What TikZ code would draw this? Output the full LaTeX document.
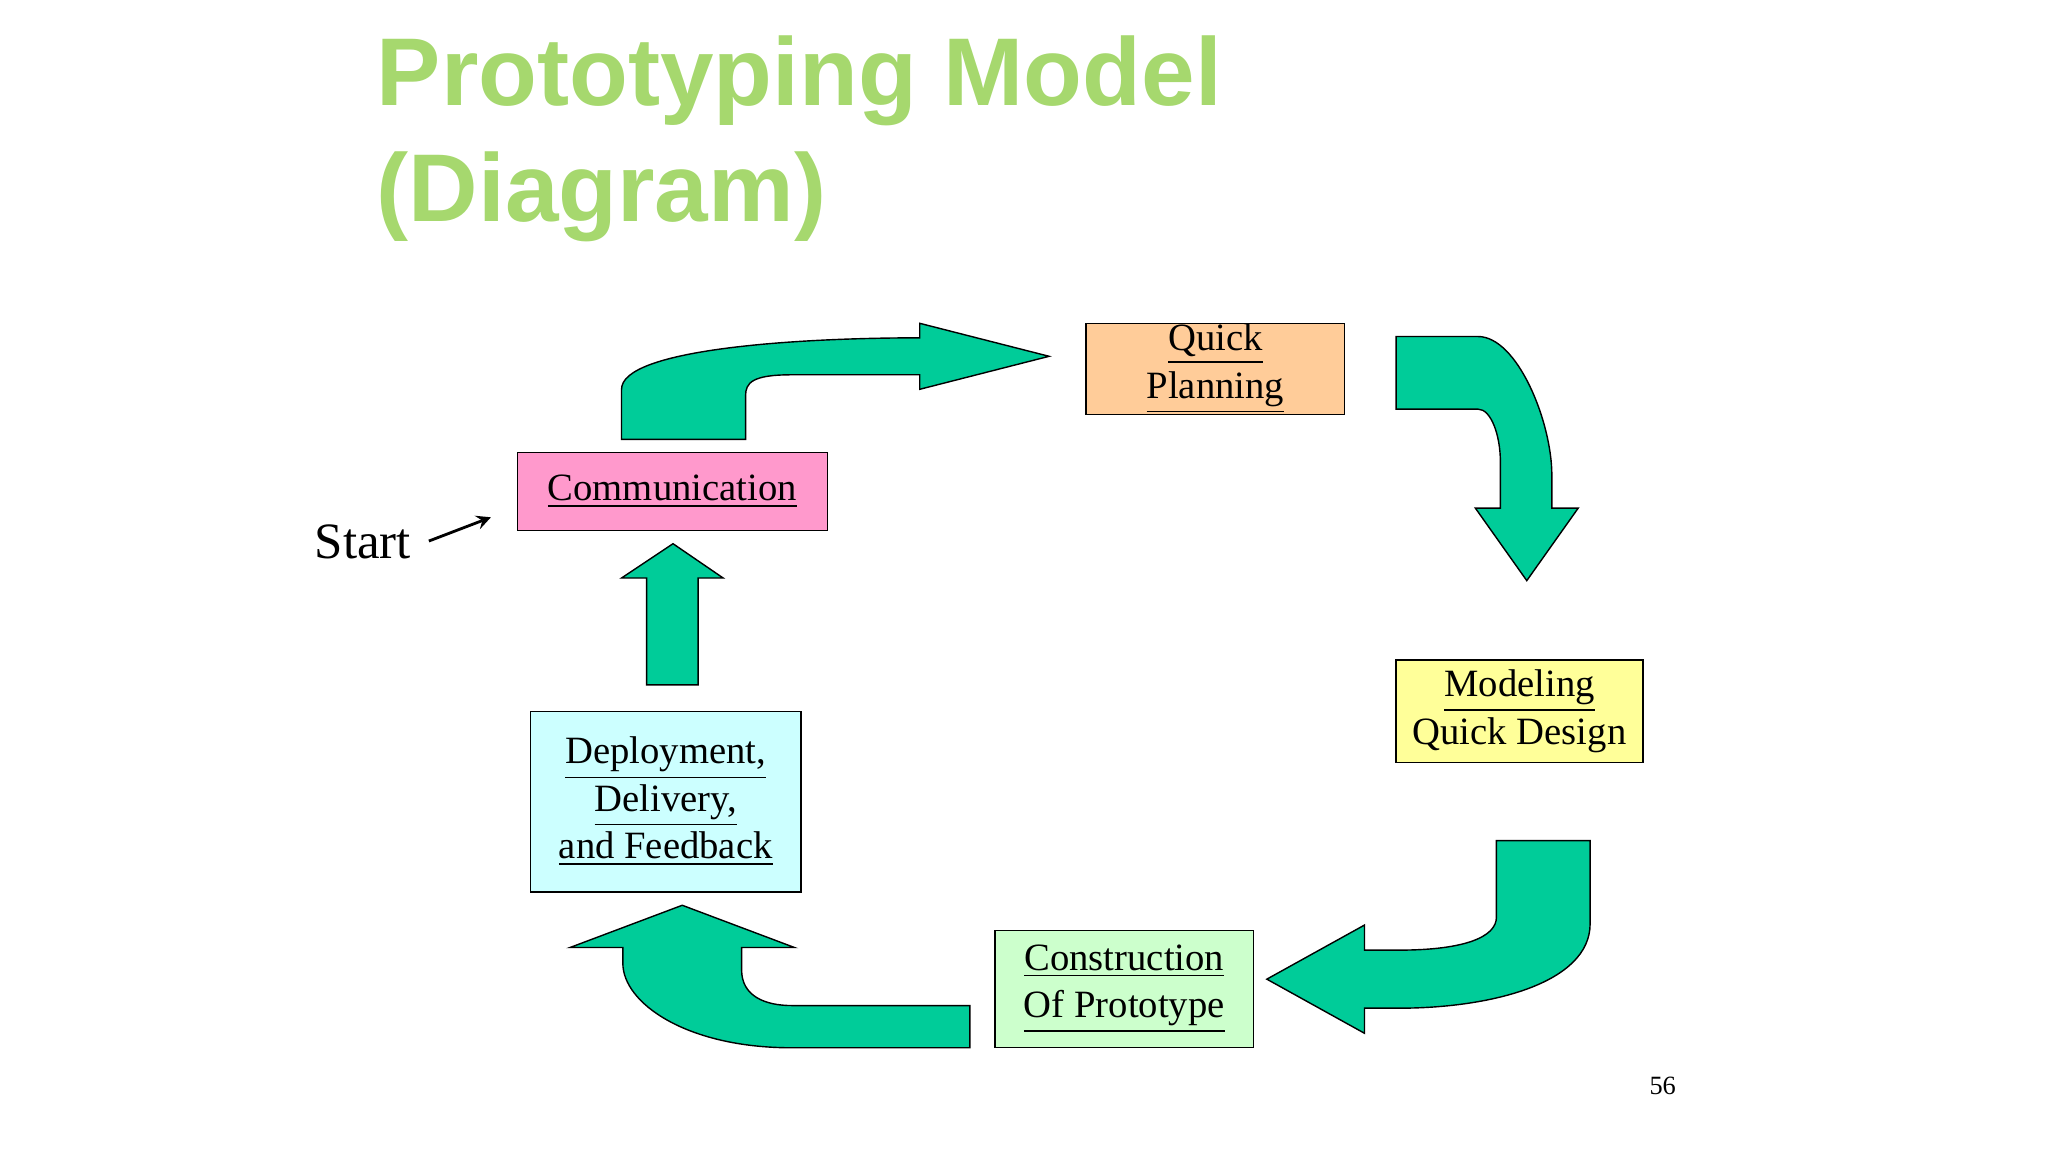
\documentclass[tikz,border=0pt]{standalone}
\usepackage{fontspec}
\setmainfont{Liberation Serif}
\newfontfamily\titlefont{Liberation Sans}
\definecolor{titlegreen}{HTML}{A6D86E}
\definecolor{flowgreen}{HTML}{00CC99}
\definecolor{planfill}{HTML}{FFCC99}
\definecolor{commfill}{HTML}{FF99CC}
\definecolor{modelfill}{HTML}{FFFF99}
\definecolor{deployfill}{HTML}{CCFFFF}
\definecolor{buildfill}{HTML}{CCFFCC}
\tikzset{
  stage/.style={draw=black,inner sep=0pt,align=center,font=\fontsize{11pt}{13.5pt}\selectfont},
  flowarrow/.style={draw=black,fill=flowgreen,line join=miter}
}
\begin{document}
\begin{tikzpicture}[x=0.0132cm,y=-0.0132cm]
    \useasboundingbox (0,0) rectangle (1552,873);

    \node[anchor=base west,text=titlegreen,font=\titlefont\bfseries\fontsize{27.4pt}{33pt}\selectfont,inner sep=0pt]
      (title) at (285,80) {Prototyping Model};
    \node[anchor=base west,text=titlegreen,font=\titlefont\bfseries\fontsize{27.4pt}{33pt}\selectfont,inner sep=0pt]
      (title2) at (285,168) {(Diagram)};

    \node[stage,fill=planfill,minimum width=196*0.0132cm,minimum height=69*0.0132cm]
      (plan) at (921,279.5) {\underline{Quick}\\\underline{Planning}};
    \node[stage,fill=commfill,minimum width=235*0.0132cm,minimum height=59*0.0132cm]
      (comm) at (509.5,372.5) {\underline{Communication}};
    \node[stage,fill=modelfill,minimum width=187*0.0132cm,minimum height=78*0.0132cm]
      (model) at (1151.5,539) {\underline{Modeling}\\Quick Design};
    \node[stage,fill=deployfill,minimum width=205*0.0132cm,minimum height=137*0.0132cm]
      (deploy) at (504.5,607.5) {\underline{Deployment,}\\\underline{Delivery,}\\\underline{and Feedback}};
    \node[stage,fill=buildfill,minimum width=196*0.0132cm,minimum height=89*0.0132cm]
      (build) at (852,749.5) {\underline{Construction}\\\underline{Of Prototype}};

    \draw[flowarrow] (471,333) -- (471,295) .. controls (471,265) and (600,256) .. (697,256)
      -- (697,245) -- (795,270) -- (697,295) -- (697,284) -- (600,284)
      .. controls (570,284) and (565,290) .. (565,300) -- (565,333) -- cycle;
    \draw[flowarrow] (1058,255) -- (1120,255) .. controls (1150,255) and (1176,320) .. (1176,360)
      -- (1176,385) -- (1196,385) -- (1157,440) -- (1118,385) -- (1137,385) -- (1137,350)
      .. controls (1137,330) and (1130,310) .. (1120,310) -- (1058,310) -- cycle;
    \draw[flowarrow] (1134,637) -- (1205,637) -- (1205,700) .. controls (1205,745) and (1130,764) .. (1060,764)
      -- (1034,764) -- (1034,783) -- (960,742) -- (1034,701) -- (1034,720) -- (1060,720)
      .. controls (1110,720) and (1134,710) .. (1134,695) -- cycle;
    \draw[flowarrow] (735,794) -- (600,794) .. controls (520,794) and (472,760) .. (472,730)
      -- (472,718) -- (432,718) -- (517,686) -- (602,718) -- (562,718) -- (562,735)
      .. controls (562,755) and (580,762) .. (600,762) -- (735,762) -- cycle;
    \draw[flowarrow] (490,519) -- (490,438) -- (471,438) -- (510,412) -- (548,438)
      -- (529,438) -- (529,519) -- cycle;

    \node[inner sep=0pt,font=\fontsize{14.5pt}{17pt}\selectfont] (start) at (275,411) {Start};
    \coordinate (startfoot) at (325,410);
    \coordinate (starttip) at (372,392);
    \draw[-stealth,thick] (startfoot) -- (starttip);

    \node[inner sep=0pt,font=\fontsize{7.5pt}{9pt}\selectfont] (page) at (1260,823) {56};
\end{tikzpicture}
\end{document}
